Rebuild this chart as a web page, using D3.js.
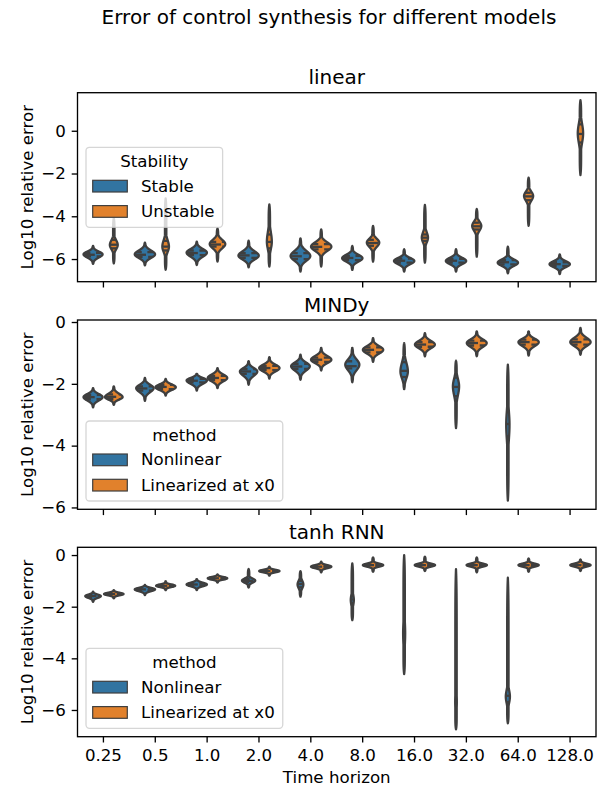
<!DOCTYPE html>
<html><head><meta charset="utf-8">
<script src="https://cdn.jsdelivr.net/npm/d3@7"></script>
<style>
body{margin:0;background:#fff}
svg{display:block}
text{font-family:"DejaVu Sans",sans-serif;fill:#000}
</style>
</head><body>
<svg id="chart" width="603" height="787"></svg>
<script>
// ---------------- data ----------------
const horizons = ["0.25","0.5","1.0","2.0","4.0","8.0","16.0","32.0","64.0","128.0"];
const yTickValues = [0, -2, -4, -6];
const panelTitles = ["linear", "MINDy", "tanh RNN"];
const legendTitles = ["Stability", "method", "method"];
const hueLabels = [["Stable","Unstable"], ["Nonlinear","Linearized at x0"], ["Nonlinear","Linearized at x0"]];

// each violin: [lo, q1, median, q3, hi, mode, spreadBelow, spreadAbove, relativeWidth]
const linearStable = [
  [-6.23,-5.88,-5.80,-5.71,-5.39,-5.78,0.15,0.13,0.92],
  [-6.30,-5.90,-5.80,-5.68,-5.23,-5.78,0.17,0.18,0.98],
  [-6.28,-5.82,-5.72,-5.60,-5.19,-5.70,0.19,0.17,0.98],
  [-6.39,-5.95,-5.83,-5.72,-5.14,-5.84,0.18,0.20,0.98],
  [-6.59,-6.00,-5.87,-5.72,-5.03,-5.86,0.22,0.24,0.95],
  [-6.51,-6.05,-5.95,-5.85,-5.39,-5.96,0.16,0.16,0.98],
  [-6.59,-6.17,-6.08,-5.98,-5.54,-6.09,0.15,0.14,0.98],
  [-6.59,-6.17,-6.08,-5.99,-5.54,-6.09,0.15,0.15,0.98],
  [-6.67,-6.25,-6.15,-6.05,-5.42,-6.17,0.15,0.15,0.98],
  [-6.71,-6.32,-6.24,-6.15,-5.78,-6.24,0.14,0.14,0.98]
];
const linearUnstable = [
  [-6.20,-5.50,-5.33,-5.10,-4.08,-5.34,0.20,0.22,0.38],
  [-6.50,-5.60,-5.42,-5.15,-3.16,-5.42,0.25,0.30,0.32],
  [-6.12,-5.42,-5.32,-5.20,-4.56,-5.30,0.20,0.20,0.75],
  [-6.35,-5.50,-5.20,-4.85,-3.44,-5.19,0.35,0.45,0.24],
  [-6.35,-5.55,-5.43,-5.30,-4.61,-5.42,0.20,0.20,0.98],
  [-6.12,-5.38,-5.25,-5.10,-4.45,-5.23,0.20,0.18,0.60],
  [-6.17,-5.15,-5.00,-4.85,-3.47,-5.00,0.22,0.25,0.30],
  [-5.89,-4.62,-4.47,-4.30,-3.66,-4.45,0.22,0.20,0.44],
  [-4.45,-3.25,-3.07,-2.90,-2.19,-3.05,0.22,0.20,0.44],
  [-2.07,-0.55,-0.15,0.30,1.43,-0.12,0.45,0.45,0.26]
];
const mindyNonlinear = [
  [-2.76,-2.50,-2.43,-2.36,-2.14,-2.43,0.11,0.10,0.92],
  [-2.55,-2.22,-2.15,-2.08,-1.81,-2.14,0.13,0.11,0.84],
  [-2.22,-1.95,-1.90,-1.84,-1.68,-1.89,0.11,0.08,0.98],
  [-2.03,-1.68,-1.60,-1.52,-1.27,-1.60,0.14,0.11,0.84],
  [-1.87,-1.52,-1.44,-1.35,-1.06,-1.43,0.14,0.12,0.90],
  [-1.95,-1.50,-1.43,-1.27,-0.84,-1.38,0.18,0.17,0.68],
  [-2.17,-1.78,-1.58,-1.30,-0.68,-1.60,0.22,0.28,0.36],
  [-3.43,-2.40,-2.10,-1.80,-1.25,-2.08,0.30,0.25,0.30],
  [-5.78,-3.70,-3.30,-2.90,-1.38,-3.32,0.50,0.45,0.16],
  null
];
const mindyLinearized = [
  [-2.68,-2.50,-2.42,-2.34,-2.08,-2.43,0.08,0.11,0.85],
  [-2.38,-2.17,-2.10,-2.03,-1.84,-2.11,0.09,0.09,0.98],
  [-2.14,-1.88,-1.81,-1.74,-1.49,-1.81,0.11,0.11,0.94],
  [-1.83,-1.56,-1.49,-1.42,-1.14,-1.49,0.11,0.11,0.98],
  [-1.57,-1.29,-1.22,-1.15,-0.84,-1.22,0.11,0.12,0.98],
  [-1.29,-0.98,-0.90,-0.82,-0.52,-0.90,0.12,0.12,0.98],
  [-1.11,-0.80,-0.73,-0.65,-0.36,-0.73,0.12,0.12,0.96],
  [-1.11,-0.76,-0.68,-0.60,-0.30,-0.68,0.13,0.12,0.96],
  [-1.09,-0.73,-0.65,-0.57,-0.30,-0.65,0.13,0.11,0.98],
  [-1.06,-0.73,-0.65,-0.56,-0.19,-0.65,0.13,0.14,0.98]
];
const rnnNonlinear = [
  [-1.81,-1.63,-1.59,-1.55,-1.42,-1.59,0.07,0.06,0.75],
  [-1.55,-1.37,-1.33,-1.29,-1.16,-1.33,0.07,0.06,0.98],
  [-1.36,-1.18,-1.14,-1.10,-0.93,-1.14,0.07,0.07,0.98],
  [-1.26,-1.05,-1.00,-0.92,-0.54,-0.99,0.08,0.08,0.64],
  [-1.61,-1.25,-1.12,-1.00,-0.62,-1.14,0.15,0.15,0.28],
  [-2.52,-1.85,-1.72,-1.60,-0.32,-1.74,0.20,0.20,0.15],
  [-4.61,-3.40,-3.00,-2.50,0.00,-3.03,0.50,0.50,0.10],
  [-6.75,-5.90,-5.60,-5.20,-0.55,-5.68,0.40,0.40,0.08],
  [-6.52,-5.70,-5.45,-5.20,-0.88,-5.48,0.25,0.25,0.20],
  null
];
const rnnLinearized = [
  [-1.68,-1.54,-1.51,-1.48,-1.36,-1.51,0.05,0.05,0.94],
  [-1.36,-1.22,-1.19,-1.16,-1.01,-1.19,0.05,0.05,0.92],
  [-1.07,-0.93,-0.90,-0.87,-0.75,-0.90,0.05,0.05,0.94],
  [-0.80,-0.65,-0.62,-0.59,-0.45,-0.62,0.05,0.05,0.98],
  [-0.67,-0.48,-0.45,-0.42,-0.26,-0.45,0.06,0.06,0.98],
  [-0.65,-0.42,-0.39,-0.36,-0.09,-0.39,0.06,0.06,0.98],
  [-0.62,-0.42,-0.39,-0.36,-0.06,-0.39,0.06,0.06,0.98],
  [-0.67,-0.42,-0.39,-0.36,-0.09,-0.39,0.06,0.06,0.98],
  [-0.65,-0.42,-0.39,-0.36,-0.13,-0.39,0.06,0.06,0.98],
  [-0.62,-0.42,-0.39,-0.36,-0.17,-0.39,0.06,0.06,0.98]
];
const seriesByPanel = [[linearStable, linearUnstable], [mindyNonlinear, mindyLinearized], [rnnNonlinear, rnnLinearized]];
const yLimits = [[-7.06, 1.78], [-6.06, 0.065], [-7.035, 0.30]];

// ---------------- layout / style ----------------
const colors = ["#3274a1", "#e1812c"];
const gray = "#3f3f3f";
const L = 77.5, R = 596;
const panelBox = [[92.7, 281.7], [320, 509.3], [547.3, 736.7]];
const legendTop = [147.3, 421, 648.3];
const FS = 16.67, TITLE_FS = 20;
const TAIL = 0.7;

const svg = d3.select("#chart");
const x = d3.scaleBand().domain(horizons).range([L, R]).padding(0);
const bw = x.bandwidth();
const maxHW = 0.2 * bw;
const hueOffset = [-0.2 * bw, 0.2 * bw];

svg.append("text").attr("x", 329).attr("y", 24).attr("text-anchor", "middle")
  .style("font-size", TITLE_FS + "px").text("Error of control synthesis for different models");

function halfWidth(d, v) {
  const [lo, q1, md, q3, hi, m, sl, sh, w] = d;
  const s = v < m ? sl : sh;
  const g = w * maxHW * Math.exp(-0.5 * ((v - m) / s) ** 2);
  const end = v < m ? lo : hi;
  const r = Math.abs((v - m) / (end - m));
  const t = Math.max(0, 1 - Math.pow(Math.min(r, 1), 8));
  return Math.max(g, TAIL * t);
}

panelTitles.forEach((title, p) => {
  const [top, bottom] = panelBox[p];
  const y = d3.scaleLinear().domain(yLimits[p]).range([bottom, top]);
  const g = svg.append("g");

  // violins
  seriesByPanel[p].forEach((series, h) => {
    series.forEach((d, i) => {
      if (!d) return;
      const cx = x(horizons[i]) + bw / 2 + hueOffset[h];
      const lo = d[0], hi = d[4];
      const n = 240;
      const pts = d3.range(n + 1).map(k => lo + (hi - lo) * k / n);
      const area = d3.area()
        .y(v => y(v))
        .x0(v => cx - halfWidth(d, v))
        .x1(v => cx + halfWidth(d, v))
        .curve(d3.curveLinear);
      g.append("path").attr("d", area(pts))
        .attr("fill", colors[h]).attr("stroke", gray)
        .attr("stroke-width", 2.3).attr("stroke-linejoin", "round");
      // quartile lines
      [[d[1], "5.6,5.6"], [d[2], "11.2,11.2"], [d[3], "5.6,5.6"]].forEach(([q, dash]) => {
        const hw = halfWidth(d, q);
        g.append("line")
          .attr("x1", cx - hw).attr("x2", cx + hw)
          .attr("y1", y(q)).attr("y2", y(q))
          .attr("stroke", gray).attr("stroke-width", 2.3)
          .attr("stroke-dasharray", dash);
      });
    });
  });

  // axes
  const yAxis = d3.axisLeft(y).tickValues(yTickValues).tickFormat(d3.format("d"))
    .tickSize(5.8).tickPadding(5.8).tickSizeOuter(0);
  const ya = g.append("g").attr("transform", `translate(${L},0)`).call(yAxis);
  ya.select(".domain").remove();
  ya.selectAll("line").attr("stroke-width", 1.33);
  ya.selectAll("text").style("font-size", FS + "px").style("font-family", '"DejaVu Sans",sans-serif');

  const xAxis = d3.axisBottom(x).tickSize(5.8).tickPadding(5.8).tickSizeOuter(0);
  if (p < 2) xAxis.tickFormat("");
  const xa = g.append("g").attr("transform", `translate(0,${bottom})`).call(xAxis);
  xa.select(".domain").remove();
  xa.selectAll("line").attr("stroke-width", 1.33);
  xa.selectAll("text").style("font-size", FS + "px").style("font-family", '"DejaVu Sans",sans-serif')
    .attr("dy", "0.76em");

  g.append("rect").attr("x", L).attr("y", top).attr("width", R - L).attr("height", bottom - top)
    .attr("fill", "none").attr("stroke", "#000").attr("stroke-width", 1.33);

  g.append("text").attr("x", (L + R) / 2).attr("y", top - 8.5).attr("text-anchor", "middle")
    .style("font-size", TITLE_FS + "px").text(title);

  g.append("text").attr("transform", `translate(33,${(top + bottom) / 2}) rotate(-90)`)
    .attr("text-anchor", "middle").style("font-size", FS + "px").text("Log10 relative error");

  // legend
  const lg = svg.append("g").attr("transform", `translate(86,${legendTop[p]})`);
  const frame = lg.append("rect").attr("x", 0).attr("y", 0).attr("height", 80).attr("rx", 3.5)
    .attr("fill", "rgba(255,255,255,0.8)").attr("stroke", "rgba(204,204,204,0.8)").attr("stroke-width", 1.3);
  let maxW = 0;
  hueLabels[p].forEach((lab, h) => {
    const py = 33 + h * 25.3;
    lg.append("rect").attr("x", 6.7).attr("y", py).attr("width", 34.6).attr("height", 11.7)
      .attr("fill", colors[h]).attr("stroke", gray).attr("stroke-width", 1.2);
    const t = lg.append("text").attr("x", 55).attr("y", py + 11.3).style("font-size", FS + "px").text(lab);
    maxW = Math.max(maxW, t.node().getComputedTextLength());
  });
  const boxW = 55 + maxW + 8;
  frame.attr("width", boxW);
  lg.append("text").attr("x", boxW / 2).attr("y", 20).attr("text-anchor", "middle")
    .style("font-size", FS + "px").text(legendTitles[p]);
});

svg.append("text").attr("x", (L + R) / 2).attr("y", 783).attr("text-anchor", "middle")
  .style("font-size", FS + "px").text("Time horizon");
</script>
</body></html>
